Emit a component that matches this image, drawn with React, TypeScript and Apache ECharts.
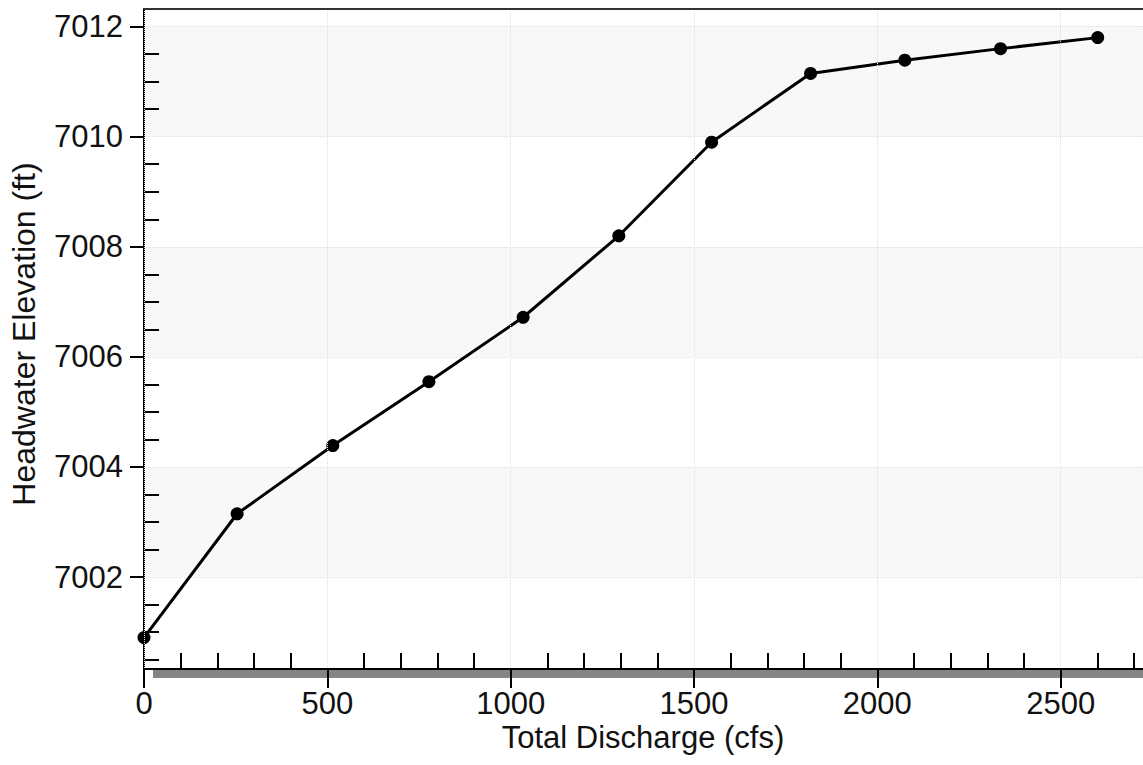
import React, { useEffect, useRef } from "react";
import * as echarts from "echarts";

const discharge = [0, 254, 515, 777, 1034, 1295, 1548, 1818, 2075, 2336, 2601];
const elevation = [7000.9, 7003.15, 7004.39, 7005.55, 7006.72, 7008.2, 7009.9, 7011.15, 7011.39, 7011.6, 7011.8];
const yMajorTicks = [7002, 7004, 7006, 7008, 7010, 7012];
const yMinorTicks = [7000.5, 7001, 7001.5, 7002.5, 7003, 7003.5, 7004.5, 7005, 7005.5, 7006.5, 7007, 7007.5, 7008.5, 7009, 7009.5, 7010.5, 7011, 7011.5];
const xTitle = "Total Discharge (cfs)";
const yTitle = "Headwater Elevation (ft)";

const FONT = "'Liberation Sans', Arial, sans-serif";
const plain = (v: number) => String(Math.round(v));

export default function App() {
  const ref = useRef<HTMLDivElement>(null);
  useEffect(() => {
    if (!ref.current) return;
    const chart = echarts.init(ref.current, undefined, { renderer: "svg" });
    const yMin = 7000.33;
    const yMax = 7012.32;
    chart.setOption({
      animation: false,
      backgroundColor: "#ffffff",
      grid: { left: 144, top: 9, width: 1100, height: 660, show: false },
      xAxis: {
        type: "value",
        min: 0,
        max: 3000,
        interval: 500,
        position: "bottom",
        z: 10,
        axisLine: { show: true, lineStyle: { color: "#000", width: 2 } },
        axisTick: { show: true, length: 19, lineStyle: { color: "#000", width: 2 } },
        minorTick: { show: true, splitNumber: 5, length: -16, lineStyle: { color: "#000", width: 2 } },
        axisLabel: { fontSize: 31, margin: 19, color: "#111", fontFamily: FONT, formatter: plain, showMaxLabel: false },
        splitLine: { show: true, lineStyle: { type: "dotted", color: "#e0e0e0", width: 1 } },
      },
      yAxis: [
        {
          type: "value",
          min: yMin,
          max: yMax,
          splitNumber: 6,
          position: "left",
          axisLine: { show: true, lineStyle: { color: "#000", width: 2 } },
          axisTick: { show: true, length: 14, customValues: yMajorTicks, lineStyle: { color: "#000", width: 2 } },
          axisLabel: {
            customValues: yMajorTicks,
            fontSize: 31,
            margin: 21,
            color: "#111",
            fontFamily: FONT,
            formatter: plain,
          },
          splitLine: { show: true, lineStyle: { type: "dotted", color: "#e0e0e0", width: 1 } },
          splitArea: { show: true, areaStyle: { color: ["#f8f8f8", "#ffffff"] } },
        },
        {
          type: "value",
          min: yMin,
          max: yMax,
          position: "left",
          axisLine: { show: false },
          axisTick: { show: true, inside: true, length: 15, customValues: yMinorTicks, lineStyle: { color: "#000", width: 2 } },
          axisLabel: { show: false },
          splitLine: { show: false },
        },
      ],
      graphic: [
        { type: "rect", z: 1, shape: { x: 153, y: 670, width: 1200, height: 8 }, style: { fill: "#858585" } },
        { type: "line", z: 20, shape: { x1: 144, y1: 9, x2: 1300, y2: 9 }, style: { stroke: "#333", lineWidth: 2 } },
        {
          type: "text",
          z: 20,
          x: 643,
          y: 722,
          style: { text: xTitle, fontSize: 31, fontFamily: FONT, fill: "#111", align: "center", verticalAlign: "top" },
        },
        {
          type: "text",
          z: 20,
          x: 24,
          y: 334,
          rotation: Math.PI / 2,
          style: { text: yTitle, fontSize: 32, fontFamily: FONT, fill: "#111", align: "center", verticalAlign: "middle" },
        },
      ],
      series: [
        {
          type: "line",
          yAxisIndex: 0,
          data: discharge.map((x, i) => [x, elevation[i]]),
          symbol: "circle",
          symbolSize: 13,
          z: 5,
          lineStyle: { color: "#000", width: 3 },
          itemStyle: { color: "#000" },
        },
      ],
    });
    return () => chart.dispose();
  }, []);
  return (
    <div style={{ position: "fixed", left: 0, top: 0, width: 1143, height: 765, overflow: "hidden", background: "#fff" }}>
      <div ref={ref} style={{ width: 1260, height: 765 }} />
    </div>
  );
}
